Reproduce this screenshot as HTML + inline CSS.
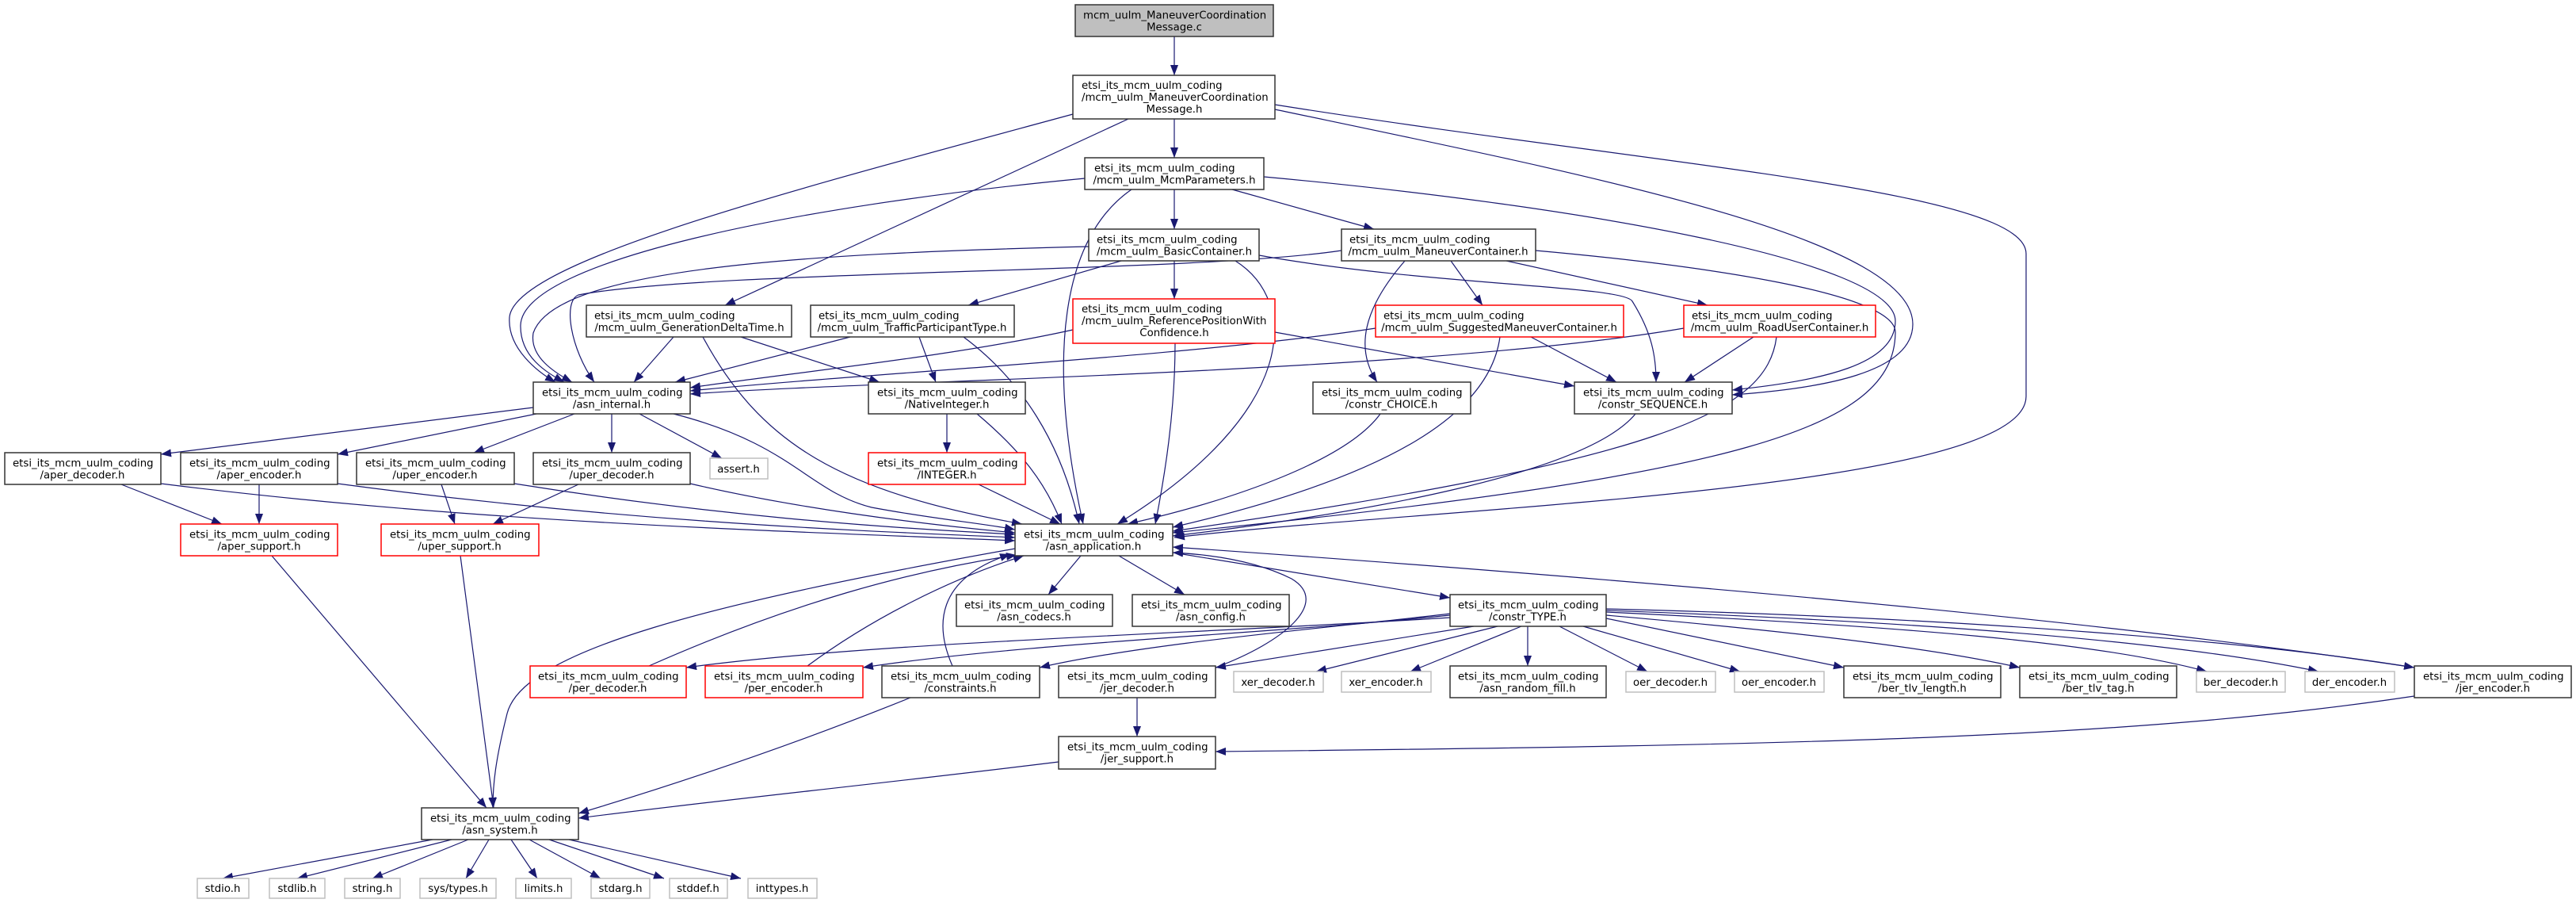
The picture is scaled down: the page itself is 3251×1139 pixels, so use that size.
<!DOCTYPE html>
<html><head><meta charset="utf-8"><style>
html,body{margin:0;padding:0;background:#fff}
svg{display:block}
text{font-family:"DejaVu Sans","Liberation Sans",sans-serif;font-size:13.3px;fill:#000}
.e{fill:none;stroke:#191970;stroke-width:1.2}
.b{fill:#fff;stroke:#333;stroke-width:1.5}
.r{fill:#fff;stroke:#ff0000;stroke-width:1.5}
.g{fill:#fff;stroke:#bfbfbf;stroke-width:1.5}
.m{text-anchor:middle}
</style></head><body>
<svg width="3251" height="1139" viewBox="0 0 3251 1139" xmlns="http://www.w3.org/2000/svg">
<defs><marker id="a" markerWidth="13" markerHeight="10" refX="13" refY="5" orient="auto" markerUnits="userSpaceOnUse"><path d="M0,0 L13,5 L0,10z" fill="#191970"/></marker></defs>
<g marker-end="url(#a)">
<path class="e" d="M1482,46 L1482,95"/>
<path class="e" d="M1482,150 L1482,199"/>
<path class="e" d="M1424,150 L915,385"/>
<path class="e" d="M1354,144 C1000,240 650,330 643,400 C640,440 680,470 701,482"/>
<path class="e" d="M1609,132 C2100,210 2557,240 2557,320 L2557,500 C2557,620 1800,640 1482,678"/>
<path class="e" d="M1609,138 C2000,220 2414,300 2414,409 C2414,470 2300,490 2186,498"/>
<path class="e" d="M1595,223 C2000,260 2392,330 2392,405 C2392,460 2300,480 2186,492"/>
<path class="e" d="M1555,239 L1734,289"/>
<path class="e" d="M1482,239 L1482,289"/>
<path class="e" d="M1369,225 C1000,260 660,330 657,410 C656,450 690,470 712,482"/>
<path class="e" d="M1428,239 C1340,300 1320,450 1367,661"/>
<path class="e" d="M1415,329 L1222,385"/>
<path class="e" d="M1482,329 L1482,377"/>
<path class="e" d="M1374,311 C1000,320 700,340 673,420 C668,450 700,470 722,482"/>
<path class="e" d="M1693,316 C1500,345 900,340 730,372 C710,380 720,440 750,482"/>
<path class="e" d="M1559,329 C1640,380 1640,520 1410,661"/>
<path class="e" d="M1589,322 C1800,360 2050,360 2060,380 C2085,420 2090,450 2090,482"/>
<path class="e" d="M1831,329 L1871,385"/>
<path class="e" d="M1901,329 L2155,385"/>
<path class="e" d="M1773,329 C1720,390 1710,440 1738,482"/>
<path class="e" d="M1938,316 C2150,335 2395,370 2392,420 C2390,540 2200,600 1480,672"/>
<path class="e" d="M850,425 L800,482"/>
<path class="e" d="M935,425 L1110,482"/>
<path class="e" d="M887,425 C960,560 1060,620 1290,661"/>
<path class="e" d="M1073,425 L852,482"/>
<path class="e" d="M1160,425 L1181,482"/>
<path class="e" d="M1216,425 C1290,480 1340,560 1362,661"/>
<path class="e" d="M1354,416 C1200,450 1000,470 871,489"/>
<path class="e" d="M1609,419 L1987,487"/>
<path class="e" d="M1483,433 C1483,520 1470,600 1458,661"/>
<path class="e" d="M1736,414 C1500,450 1100,470 871,493"/>
<path class="e" d="M1932,425 L2040,482"/>
<path class="e" d="M1893,425 C1880,520 1760,600 1480,665"/>
<path class="e" d="M2125,414 C1800,470 1100,480 871,497"/>
<path class="e" d="M2213,425 L2126,482"/>
<path class="e" d="M2242,425 C2230,520 2100,580 1480,670"/>
<path class="e" d="M1195,522 L1195,571"/>
<path class="e" d="M1233,522 C1290,570 1320,610 1340,661"/>
<path class="e" d="M1235,611 L1338,661"/>
<path class="e" d="M1742,522 C1700,580 1560,630 1423,661"/>
<path class="e" d="M2064,522 C2000,600 1700,650 1480,676"/>
<path class="e" d="M673,514 L203,573"/>
<path class="e" d="M677,522 L426,573"/>
<path class="e" d="M725,522 L598,571"/>
<path class="e" d="M772,522 L772,571"/>
<path class="e" d="M807,522 L911,578"/>
<path class="e" d="M850,522 C1000,560 1020,620 1100,640 C1180,655 1240,660 1281,668"/>
<path class="e" d="M153,611 L280,661"/>
<path class="e" d="M203,610 C600,660 1000,670 1281,682"/>
<path class="e" d="M327,611 L327,661"/>
<path class="e" d="M426,610 C800,660 1100,670 1281,678"/>
<path class="e" d="M557,611 L574,661"/>
<path class="e" d="M649,610 C900,650 1100,665 1281,674"/>
<path class="e" d="M730,611 L622,661"/>
<path class="e" d="M871,610 C1000,640 1150,660 1281,672"/>
<path class="e" d="M343,701 L614,1019"/>
<path class="e" d="M581,701 L623,1019"/>
<path class="e" d="M1281,692 C900,760 660,820 640,900 C625,960 622,990 622,1019"/>
<path class="e" d="M1364,701 L1323,750"/>
<path class="e" d="M1412,701 L1495,750"/>
<path class="e" d="M1480,697 L1830,754"/>
<path class="e" d="M1830,779 C1500,800 1100,810 866,842"/>
<path class="e" d="M1830,776 C1600,800 1300,810 1089,842"/>
<path class="e" d="M1830,774 C1700,790 1450,810 1312,842"/>
<path class="e" d="M1860,790 L1534,842"/>
<path class="e" d="M1890,790 L1661,847"/>
<path class="e" d="M1920,790 L1780,847"/>
<path class="e" d="M1928,790 L1928,840"/>
<path class="e" d="M1968,790 L2079,847"/>
<path class="e" d="M1998,790 L2196,847"/>
<path class="e" d="M2027,780 L2327,842"/>
<path class="e" d="M2027,776 C2300,800 2450,820 2549,842"/>
<path class="e" d="M2027,772 C2400,790 2650,810 2785,847"/>
<path class="e" d="M2027,770 C2450,785 2750,810 2926,847"/>
<path class="e" d="M2027,768 C2500,780 2850,810 3047,842"/>
<path class="e" d="M819,840 C1000,760 1150,720 1283,700"/>
<path class="e" d="M1019,840 C1100,780 1200,730 1292,701"/>
<path class="e" d="M1202,840 C1180,790 1180,730 1275,699"/>
<path class="e" d="M1149,880 C1000,940 850,990 730,1026"/>
<path class="e" d="M1336,961 C1100,990 900,1010 730,1032"/>
<path class="e" d="M1435,880 L1435,929"/>
<path class="e" d="M1534,842 C1620,810 1680,760 1630,730 C1590,710 1540,700 1480,697"/>
<path class="e" d="M3047,878 C2700,930 2300,940 1534,948"/>
<path class="e" d="M3047,842 C2700,790 2200,740 1480,690"/>
<path class="e" d="M546,1059 L281,1108"/>
<path class="e" d="M570,1059 L375,1108"/>
<path class="e" d="M591,1059 L470,1108"/>
<path class="e" d="M617,1059 L588,1108"/>
<path class="e" d="M645,1059 L678,1108"/>
<path class="e" d="M668,1059 L758,1108"/>
<path class="e" d="M693,1059 L838,1108"/>
<path class="e" d="M718,1059 L935,1108"/>
</g>
<!-- nodes -->
<rect x="1357" y="6" width="250" height="40" fill="#bfbfbf" stroke="#333" stroke-width="1.5"/>
<text x="1367" y="23.5">mcm_uulm_ManeuverCoordination</text><text class="m" x="1482" y="38.5">Message.c</text>

<rect class="b" x="1354" y="95" width="255" height="55"/>
<text x="1365" y="112">etsi_its_mcm_uulm_coding</text><text x="1365" y="127">/mcm_uulm_ManeuverCoordination</text><text class="m" x="1482" y="142">Message.h</text>

<rect class="b" x="1369" y="199" width="226" height="40"/>
<text x="1381" y="216.5">etsi_its_mcm_uulm_coding</text><text class="m" x="1482" y="231.5">/mcm_uulm_McmParameters.h</text>

<rect class="b" x="1374" y="289" width="215" height="40"/>
<text x="1384" y="306.5">etsi_its_mcm_uulm_coding</text><text class="m" x="1482" y="321.5">/mcm_uulm_BasicContainer.h</text>

<rect class="b" x="1693" y="289" width="245" height="40"/>
<text x="1703" y="306.5">etsi_its_mcm_uulm_coding</text><text class="m" x="1815" y="321.5">/mcm_uulm_ManeuverContainer.h</text>

<rect class="b" x="740" y="385" width="259" height="40"/>
<text x="750" y="402.5">etsi_its_mcm_uulm_coding</text><text class="m" x="870" y="417.5">/mcm_uulm_GenerationDeltaTime.h</text>

<rect class="b" x="1023" y="385" width="257" height="40"/>
<text x="1033" y="402.5">etsi_its_mcm_uulm_coding</text><text class="m" x="1151" y="417.5">/mcm_uulm_TrafficParticipantType.h</text>

<rect class="r" x="1354" y="377" width="255" height="56"/>
<text x="1365" y="394">etsi_its_mcm_uulm_coding</text><text x="1365" y="409">/mcm_uulm_ReferencePositionWith</text><text class="m" x="1482" y="424">Confidence.h</text>

<rect class="r" x="1736" y="385" width="313" height="40"/>
<text x="1746" y="402.5">etsi_its_mcm_uulm_coding</text><text class="m" x="1892" y="417.5">/mcm_uulm_SuggestedManeuverContainer.h</text>

<rect class="r" x="2125" y="385" width="242" height="40"/>
<text x="2135" y="402.5">etsi_its_mcm_uulm_coding</text><text class="m" x="2246" y="417.5">/mcm_uulm_RoadUserContainer.h</text>

<rect class="b" x="673" y="482" width="198" height="40"/>
<text x="684" y="499.5">etsi_its_mcm_uulm_coding</text><text class="m" x="772" y="514.5">/asn_internal.h</text>

<rect class="b" x="1096" y="482" width="198" height="40"/>
<text x="1107" y="499.5">etsi_its_mcm_uulm_coding</text><text class="m" x="1195" y="514.5">/NativeInteger.h</text>

<rect class="b" x="1657" y="482" width="199" height="40"/>
<text x="1668" y="499.5">etsi_its_mcm_uulm_coding</text><text class="m" x="1756" y="514.5">/constr_CHOICE.h</text>

<rect class="b" x="1987" y="482" width="199" height="40"/>
<text x="1998" y="499.5">etsi_its_mcm_uulm_coding</text><text class="m" x="2086" y="514.5">/constr_SEQUENCE.h</text>

<rect class="b" x="6" y="571" width="197" height="40"/>
<text x="16" y="588.5">etsi_its_mcm_uulm_coding</text><text class="m" x="104" y="603.5">/aper_decoder.h</text>

<rect class="b" x="228" y="571" width="198" height="40"/>
<text x="239" y="588.5">etsi_its_mcm_uulm_coding</text><text class="m" x="327" y="603.5">/aper_encoder.h</text>

<rect class="b" x="450" y="571" width="199" height="40"/>
<text x="461" y="588.5">etsi_its_mcm_uulm_coding</text><text class="m" x="549" y="603.5">/uper_encoder.h</text>

<rect class="b" x="673" y="571" width="198" height="40"/>
<text x="684" y="588.5">etsi_its_mcm_uulm_coding</text><text class="m" x="772" y="603.5">/uper_decoder.h</text>

<rect class="g" x="896" y="578" width="73" height="26"/>
<text class="m" x="932" y="596">assert.h</text>

<rect class="r" x="1096" y="571" width="198" height="40"/>
<text x="1107" y="588.5">etsi_its_mcm_uulm_coding</text><text class="m" x="1195" y="603.5">/INTEGER.h</text>

<rect class="r" x="228" y="661" width="198" height="40"/>
<text x="239" y="678.5">etsi_its_mcm_uulm_coding</text><text class="m" x="327" y="693.5">/aper_support.h</text>

<rect class="r" x="481" y="661" width="199" height="40"/>
<text x="492" y="678.5">etsi_its_mcm_uulm_coding</text><text class="m" x="580" y="693.5">/uper_support.h</text>

<rect class="b" x="1281" y="661" width="199" height="40"/>
<text x="1292" y="678.5">etsi_its_mcm_uulm_coding</text><text class="m" x="1380" y="693.5">/asn_application.h</text>

<rect class="b" x="1207" y="750" width="197" height="40"/>
<text x="1217" y="767.5">etsi_its_mcm_uulm_coding</text><text class="m" x="1305" y="782.5">/asn_codecs.h</text>

<rect class="b" x="1429" y="750" width="198" height="40"/>
<text x="1440" y="767.5">etsi_its_mcm_uulm_coding</text><text class="m" x="1528" y="782.5">/asn_config.h</text>

<rect class="b" x="1830" y="750" width="197" height="40"/>
<text x="1840" y="767.5">etsi_its_mcm_uulm_coding</text><text class="m" x="1928" y="782.5">/constr_TYPE.h</text>

<rect class="r" x="669" y="840" width="197" height="40"/>
<text x="679" y="857.5">etsi_its_mcm_uulm_coding</text><text class="m" x="767" y="872.5">/per_decoder.h</text>

<rect class="r" x="890" y="840" width="199" height="40"/>
<text x="901" y="857.5">etsi_its_mcm_uulm_coding</text><text class="m" x="989" y="872.5">/per_encoder.h</text>

<rect class="b" x="1113" y="840" width="199" height="40"/>
<text x="1124" y="857.5">etsi_its_mcm_uulm_coding</text><text class="m" x="1212" y="872.5">/constraints.h</text>

<rect class="b" x="1336" y="840" width="198" height="40"/>
<text x="1347" y="857.5">etsi_its_mcm_uulm_coding</text><text class="m" x="1435" y="872.5">/jer_decoder.h</text>

<rect class="g" x="1557" y="847" width="113" height="26"/>
<text class="m" x="1613" y="865">xer_decoder.h</text>
<rect class="g" x="1693" y="847" width="113" height="26"/>
<text class="m" x="1749" y="865">xer_encoder.h</text>

<rect class="b" x="1830" y="840" width="197" height="40"/>
<text x="1840" y="857.5">etsi_its_mcm_uulm_coding</text><text class="m" x="1928" y="872.5">/asn_random_fill.h</text>

<rect class="g" x="2052" y="847" width="113" height="26"/>
<text class="m" x="2108" y="865">oer_decoder.h</text>
<rect class="g" x="2189" y="847" width="113" height="26"/>
<text class="m" x="2245" y="865">oer_encoder.h</text>

<rect class="b" x="2327" y="840" width="198" height="40"/>
<text x="2338" y="857.5">etsi_its_mcm_uulm_coding</text><text class="m" x="2426" y="872.5">/ber_tlv_length.h</text>

<rect class="b" x="2549" y="840" width="198" height="40"/>
<text x="2560" y="857.5">etsi_its_mcm_uulm_coding</text><text class="m" x="2648" y="872.5">/ber_tlv_tag.h</text>

<rect class="g" x="2772" y="847" width="112" height="26"/>
<text class="m" x="2828" y="865">ber_decoder.h</text>
<rect class="g" x="2909" y="847" width="113" height="26"/>
<text class="m" x="2965" y="865">der_encoder.h</text>

<rect class="b" x="3047" y="840" width="198" height="40"/>
<text x="3058" y="857.5">etsi_its_mcm_uulm_coding</text><text class="m" x="3146" y="872.5">/jer_encoder.h</text>

<rect class="b" x="1336" y="929" width="198" height="41"/>
<text x="1347" y="946.5">etsi_its_mcm_uulm_coding</text><text class="m" x="1435" y="961.5">/jer_support.h</text>

<rect class="b" x="532" y="1019" width="198" height="40"/>
<text x="543" y="1036.5">etsi_its_mcm_uulm_coding</text><text class="m" x="631" y="1051.5">/asn_system.h</text>

<rect class="g" x="249" y="1108" width="65" height="25"/><text class="m" x="281" y="1125">stdio.h</text>
<rect class="g" x="340" y="1108" width="70" height="25"/><text class="m" x="375" y="1125">stdlib.h</text>
<rect class="g" x="435" y="1108" width="70" height="25"/><text class="m" x="470" y="1125">string.h</text>
<rect class="g" x="530" y="1108" width="96" height="25"/><text class="m" x="578" y="1125">sys/types.h</text>
<rect class="g" x="651" y="1108" width="70" height="25"/><text class="m" x="686" y="1125">limits.h</text>
<rect class="g" x="746" y="1108" width="74" height="25"/><text class="m" x="783" y="1125">stdarg.h</text>
<rect class="g" x="845" y="1108" width="73" height="25"/><text class="m" x="881" y="1125">stddef.h</text>
<rect class="g" x="944" y="1108" width="87" height="25"/><text class="m" x="987" y="1125">inttypes.h</text>
</svg>
</body></html>
